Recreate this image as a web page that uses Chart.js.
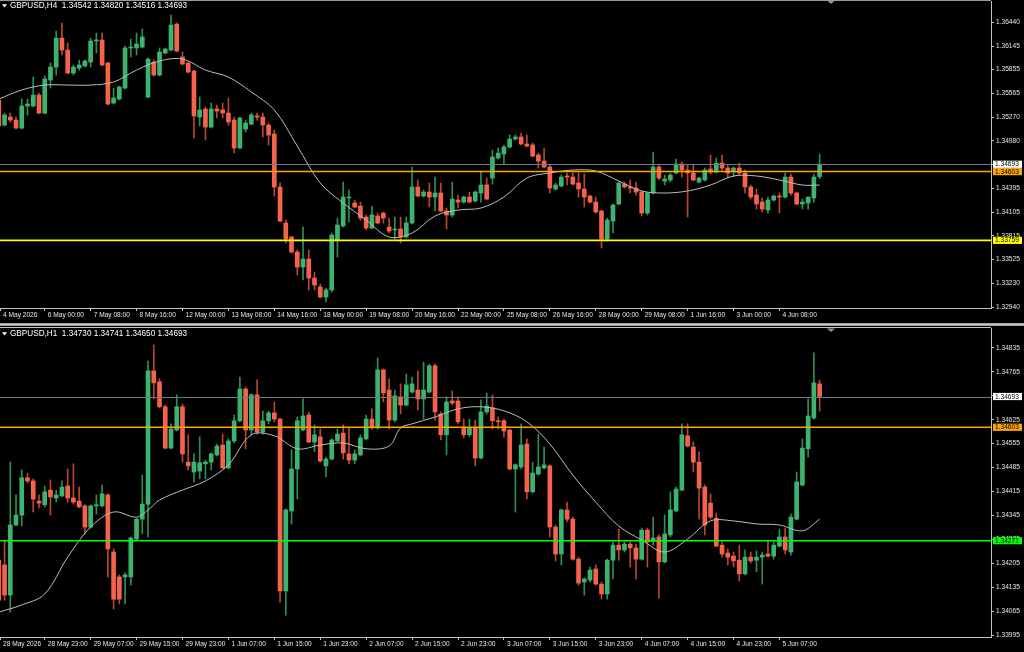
<!DOCTYPE html>
<html>
<head>
<meta charset="utf-8">
<script src="https://cdn.jsdelivr.net/npm/chart.js@4.4.1/dist/chart.umd.min.js"></script>
<style>
  html, body { margin: 0; padding: 0; background: #000; overflow: hidden; }
  #wrap { position: relative; width: 1024px; height: 652px; }
  canvas { position: absolute; left: 0; }
  #h4 { top: 0; }
  #h1 { top: 322px; }
</style>
</head>
<body>
<div id="wrap">
  <canvas id="h4" width="1024" height="320"></canvas>
  <canvas id="h1" width="1024" height="330"></canvas>
</div>
<script>
const symbol = "GBPUSD";

// ---- H4 panel ----
const h4Open = [
  1.35482,1.35175,1.35273,1.35236,1.35138,1.35408,1.35408,1.35543,1.35322,1.35728,1.35887,1.36243,
  1.36096,1.35814,1.35875,1.35900,1.35949,1.36207,1.36219,1.35936,1.35445,1.35494,1.35629,1.36121,
  1.36121,1.36133,1.35519,1.35949,1.35789,1.36059,1.36096,1.36415,1.36010,1.35936,1.35838,1.35273,
  1.35372,1.35150,1.35372,1.35360,1.35322,1.35236,1.34893,1.35126,1.35187,1.35286,1.35273,1.35175,
  1.35065,1.34414,1.33972,1.33800,1.33615,1.33431,1.33529,1.33296,1.33186,1.33063,1.33149,1.33763,
  1.33935,1.34279,1.34217,1.34180,1.34045,1.33910,1.34058,1.34094,1.33922,1.33886,1.33898,1.33800,
  1.33972,1.34414,1.34303,1.34352,1.34291,1.34340,1.34119,1.34070,1.34254,1.34229,1.34291,1.34242,
  1.34340,1.34438,1.34524,1.34770,1.34819,1.34905,1.35003,1.35028,1.34942,1.34930,1.34807,1.34733,
  1.34659,1.34389,1.34426,1.34549,1.34536,1.34463,1.34389,1.34303,1.34229,1.34119,1.33775,1.33996,
  1.34205,1.34450,1.34414,1.34401,1.34352,1.34094,1.34340,1.34659,1.34487,1.34500,1.34586,1.34696,
  1.34622,1.34586,1.34475,1.34500,1.34635,1.34598,1.34708,1.34647,1.34598,1.34647,1.34586,1.34414,
  1.34315,1.34229,1.34131,1.34254,1.34303,1.34291,1.34536,1.34340,1.34205,1.34217,1.34279,1.34542
];
const h4High = [
  1.35519,1.35322,1.35322,1.35273,1.35494,1.35494,1.35764,1.35568,1.35777,1.35936,1.36329,1.36428,
  1.36182,1.35912,1.35973,1.35973,1.36243,1.36305,1.36305,1.35949,1.35629,1.35654,1.36145,1.36231,
  1.36305,1.36354,1.35998,1.35973,1.36121,1.36121,1.36526,1.36428,1.36071,1.35949,1.35850,1.35519,
  1.35396,1.35445,1.35421,1.35445,1.35507,1.35273,1.35273,1.35236,1.35322,1.35322,1.35322,1.35200,
  1.35114,1.34463,1.34008,1.33812,1.33640,1.33922,1.33640,1.33370,1.33222,1.33174,1.33849,1.34033,
  1.34475,1.34377,1.34254,1.34229,1.34070,1.34180,1.34094,1.34106,1.34033,1.34045,1.34045,1.34045,
  1.34659,1.34500,1.34377,1.34463,1.34536,1.34463,1.34156,1.34475,1.34315,1.34303,1.34352,1.34365,
  1.34610,1.34524,1.34868,1.34893,1.34930,1.35052,1.35052,1.35077,1.35052,1.34954,1.34831,1.34893,
  1.34684,1.34463,1.34561,1.34586,1.34586,1.34586,1.34573,1.34315,1.34291,1.34131,1.34033,1.34205,
  1.34475,1.34475,1.34500,1.34475,1.34365,1.34352,1.34844,1.34696,1.34561,1.34586,1.34758,1.34721,
  1.34684,1.34684,1.34536,1.34647,1.34807,1.34770,1.34807,1.34684,1.34659,1.34708,1.34622,1.34438,
  1.34389,1.34279,1.34291,1.34315,1.34340,1.34586,1.34573,1.34352,1.34266,1.34291,1.34573,1.34820
];
const h4Low = [
  1.35138,1.35163,1.35212,1.35126,1.35126,1.35298,1.35396,1.35310,1.35310,1.35629,1.35789,1.36035,
  1.35801,1.35789,1.35850,1.35887,1.35887,1.36059,1.35900,1.35421,1.35433,1.35482,1.35617,1.36010,
  1.36035,1.36121,1.35507,1.35777,1.35777,1.36047,1.36084,1.36071,1.35912,1.35814,1.35016,1.35163,
  1.34991,1.35138,1.35261,1.35261,1.35175,1.34831,1.34880,1.35089,1.35175,1.35236,1.35028,1.34930,
  1.34303,1.33984,1.33726,1.33603,1.33333,1.33272,1.33149,1.33149,1.33051,1.33002,1.33124,1.33554,
  1.33922,1.33984,1.34156,1.34008,1.33886,1.33898,1.33959,1.33972,1.33849,1.33775,1.33726,1.33787,
  1.33959,1.34291,1.34291,1.34168,1.34119,1.34106,1.33898,1.34045,1.34156,1.34217,1.34217,1.34229,
  1.34229,1.34254,1.34450,1.34758,1.34696,1.34893,1.34991,1.34930,1.34905,1.34782,1.34647,1.34647,
  1.34340,1.34377,1.34414,1.34438,1.34438,1.34291,1.34168,1.34217,1.34094,1.33665,1.33750,1.33849,
  1.34193,1.34401,1.34340,1.34315,1.34058,1.34070,1.34328,1.34500,1.34438,1.34475,1.34573,1.34536,
  1.34045,1.34487,1.34463,1.34487,1.34573,1.34586,1.34622,1.34524,1.34536,1.34561,1.34340,1.34266,
  1.34143,1.34106,1.34094,1.34242,1.34094,1.34279,1.34315,1.34193,1.34143,1.34143,1.34229,1.34516
];
const h4Close = [
  1.35163,1.35298,1.35236,1.35138,1.35408,1.35433,1.35543,1.35322,1.35740,1.35887,1.36243,1.36096,
  1.35814,1.35887,1.35912,1.35961,1.36207,1.36219,1.35912,1.35433,1.35507,1.35642,1.36121,1.36133,
  1.36170,1.36256,1.35985,1.35789,1.36071,1.36108,1.36403,1.36084,1.35924,1.35826,1.35286,1.35360,
  1.35150,1.35372,1.35347,1.35322,1.35212,1.34893,1.35261,1.35200,1.35298,1.35273,1.35175,1.35052,
  1.34414,1.33996,1.33775,1.33615,1.33431,1.33529,1.33296,1.33210,1.33063,1.33149,1.33824,1.33947,
  1.34291,1.34291,1.34168,1.34033,1.33910,1.34070,1.33972,1.34033,1.33873,1.33898,1.33800,1.33972,
  1.34414,1.34303,1.34352,1.34291,1.34340,1.34119,1.34070,1.34266,1.34229,1.34291,1.34229,1.34352,
  1.34438,1.34266,1.34782,1.34831,1.34905,1.35003,1.35028,1.34942,1.34917,1.34794,1.34733,1.34659,
  1.34401,1.34438,1.34536,1.34536,1.34450,1.34389,1.34291,1.34229,1.34106,1.33775,1.34008,1.34193,
  1.34463,1.34414,1.34401,1.34352,1.34094,1.34340,1.34659,1.34524,1.34512,1.34561,1.34696,1.34622,
  1.34586,1.34500,1.34524,1.34622,1.34598,1.34708,1.34647,1.34586,1.34647,1.34586,1.34414,1.34291,
  1.34205,1.34143,1.34254,1.34303,1.34291,1.34536,1.34340,1.34205,1.34229,1.34291,1.34536,1.34693
];
// moving average at these bar indices
const h4MaIdx = [0,4,8,12,16,20,24,28,32,36,40,44,48,52,56,60,64,68,72,76,80,84,88,92,96,100,104,108,112,116,120,124,128,132,136,140,143];
const h4MaVal = [1.35494,1.35605,1.35666,1.35666,1.35666,1.35703,1.35850,1.35961,1.35985,1.35850,1.35764,1.35580,
  1.35360,1.34917,1.34463,1.34217,1.34008,1.33800,1.33849,1.34058,1.34131,1.34156,1.34291,1.34524,
  1.34586,1.34622,1.34610,1.34487,1.34365,1.34340,1.34365,1.34438,1.34549,1.34549,1.34500,1.34438,1.34438];
const h4TickIdx = [0,8,16,24,32,40,48,56,64,72,80,88,96,104,112,120,128,136];
const h4TickText = ["4 May 2026","6 May 00:00","7 May 08:00","8 May 16:00","12 May 00:00","13 May 08:00",
  "14 May 16:00","18 May 00:00","19 May 08:00","20 May 16:00","22 May 00:00","25 May 08:00",
  "26 May 16:00","28 May 00:00","29 May 08:00","1 Jun 16:00","3 Jun 00:00","4 Jun 08:00"];
const h4PriceTicks = [1.36440,1.36145,1.35855,1.35565,1.35270,1.34980,1.34690,1.34395,1.34105,1.33815,1.33525,1.33230,1.32940];
const h4Levels = [1.34603, 1.33759];

// ---- H1 panel ----
const h1Open = [
  1.34214,1.34200,1.34112,1.34317,1.34346,1.34455,1.34446,1.34387,1.34376,1.34419,1.34396,1.34402,
  1.34431,1.34396,1.34387,1.34373,1.34311,1.34373,1.34373,1.34405,1.34238,1.34165,1.34165,1.34165,
  1.34276,1.34334,1.34378,1.34768,1.34736,1.34663,1.34542,1.34595,1.34663,1.34501,1.34472,1.34475,
  1.34496,1.34501,1.34522,1.34551,1.34484,1.34563,1.34622,1.34715,1.34595,1.34698,1.34589,1.34622,
  1.34645,1.34627,1.34124,1.34358,1.34481,1.34595,1.34639,1.34560,1.34575,1.34490,1.34510,1.34563,
  1.34586,1.34525,1.34507,1.34522,1.34569,1.34627,1.34601,1.34771,1.34712,1.34624,1.34692,1.34668,
  1.34706,1.34712,1.34686,1.34706,1.34783,1.34642,1.34581,1.34680,1.34680,1.34601,1.34581,1.34601,
  1.34513,1.34648,1.34660,1.34622,1.34622,1.34595,1.34481,1.34487,1.34554,1.34414,1.34466,1.34484,
  1.34490,1.34311,1.34232,1.34361,1.34334,1.34217,1.34150,1.34156,1.34188,1.34144,1.34115,1.34214,
  1.34258,1.34244,1.34261,1.34250,1.34217,1.34302,1.34270,1.34282,1.34209,1.34288,1.34358,1.34419,
  1.34578,1.34545,1.34501,1.34428,1.34381,1.34337,1.34258,1.34235,1.34226,1.34214,1.34174,1.34223,
  1.34214,1.34223,1.34232,1.34226,1.34255,1.34282,1.34238,1.34334,1.34434,1.34540,1.34630,1.34730
];
const h1High = [
  1.34229,1.34273,1.34501,1.34405,1.34478,1.34469,1.34452,1.34405,1.34431,1.34449,1.34419,1.34446,
  1.34481,1.34496,1.34428,1.34376,1.34376,1.34405,1.34434,1.34408,1.34247,1.34171,1.34177,1.34282,
  1.34337,1.34463,1.34797,1.34844,1.34745,1.34668,1.34613,1.34698,1.34671,1.34581,1.34525,1.34575,
  1.34507,1.34528,1.34554,1.34583,1.34569,1.34639,1.34750,1.34721,1.34701,1.34742,1.34651,1.34651,
  1.34677,1.34630,1.34364,1.34537,1.34633,1.34686,1.34648,1.34610,1.34598,1.34516,1.34569,1.34598,
  1.34610,1.34601,1.34537,1.34581,1.34639,1.34657,1.34806,1.34774,1.34745,1.34712,1.34730,1.34759,
  1.34750,1.34768,1.34794,1.34788,1.34788,1.34648,1.34692,1.34709,1.34692,1.34627,1.34627,1.34624,
  1.34683,1.34703,1.34698,1.34633,1.34627,1.34598,1.34496,1.34613,1.34569,1.34501,1.34583,1.34545,
  1.34493,1.34317,1.34364,1.34384,1.34340,1.34223,1.34162,1.34194,1.34200,1.34150,1.34217,1.34267,
  1.34305,1.34267,1.34267,1.34261,1.34308,1.34308,1.34340,1.34288,1.34346,1.34414,1.34428,1.34613,
  1.34613,1.34560,1.34531,1.34434,1.34408,1.34352,1.34267,1.34247,1.34238,1.34258,1.34244,1.34238,
  1.34241,1.34238,1.34273,1.34267,1.34305,1.34308,1.34349,1.34472,1.34569,1.34686,1.34821,1.34741
];
const h1Low = [
  1.34068,1.34097,1.34062,1.34314,1.34314,1.34440,1.34355,1.34367,1.34370,1.34346,1.34384,1.34399,
  1.34384,1.34378,1.34367,1.34291,1.34308,1.34349,1.34370,1.34165,1.34071,1.34086,1.34086,1.34141,
  1.34273,1.34291,1.34282,1.34686,1.34660,1.34540,1.34540,1.34592,1.34501,1.34478,1.34443,1.34452,
  1.34452,1.34478,1.34519,1.34481,1.34481,1.34557,1.34619,1.34540,1.34581,1.34583,1.34583,1.34613,
  1.34619,1.34091,1.34053,1.34320,1.34393,1.34592,1.34557,1.34531,1.34501,1.34458,1.34507,1.34560,
  1.34510,1.34496,1.34496,1.34519,1.34566,1.34598,1.34598,1.34677,1.34598,1.34619,1.34642,1.34665,
  1.34703,1.34654,1.34627,1.34703,1.34624,1.34566,1.34522,1.34668,1.34613,1.34572,1.34575,1.34490,
  1.34510,1.34642,1.34598,1.34598,1.34575,1.34478,1.34355,1.34481,1.34393,1.34411,1.34463,1.34481,
  1.34282,1.34212,1.34200,1.34326,1.34214,1.34141,1.34112,1.34150,1.34141,1.34100,1.34100,1.34159,
  1.34214,1.34238,1.34194,1.34159,1.34214,1.34194,1.34258,1.34103,1.34206,1.34282,1.34355,1.34417,
  1.34545,1.34472,1.34334,1.34288,1.34334,1.34253,1.34223,1.34200,1.34194,1.34153,1.34171,1.34206,
  1.34180,1.34144,1.34223,1.34217,1.34253,1.34232,1.34229,1.34332,1.34431,1.34516,1.34627,1.34650
];
const h1Close = [
  1.34097,1.34112,1.34317,1.34346,1.34455,1.34446,1.34393,1.34381,1.34414,1.34399,1.34405,1.34428,
  1.34396,1.34384,1.34370,1.34311,1.34373,1.34376,1.34408,1.34247,1.34100,1.34100,1.34171,1.34279,
  1.34334,1.34378,1.34768,1.34733,1.34663,1.34542,1.34598,1.34663,1.34525,1.34490,1.34501,1.34499,
  1.34501,1.34525,1.34548,1.34484,1.34563,1.34622,1.34715,1.34595,1.34698,1.34589,1.34622,1.34645,
  1.34627,1.34124,1.34361,1.34481,1.34622,1.34636,1.34560,1.34581,1.34504,1.34510,1.34566,1.34583,
  1.34528,1.34507,1.34525,1.34572,1.34627,1.34601,1.34771,1.34703,1.34624,1.34695,1.34668,1.34727,
  1.34730,1.34686,1.34712,1.34783,1.34648,1.34581,1.34677,1.34674,1.34619,1.34581,1.34601,1.34513,
  1.34648,1.34665,1.34622,1.34619,1.34592,1.34481,1.34493,1.34551,1.34414,1.34469,1.34487,1.34493,
  1.34311,1.34232,1.34361,1.34334,1.34217,1.34147,1.34159,1.34185,1.34144,1.34115,1.34214,1.34258,
  1.34244,1.34261,1.34250,1.34217,1.34302,1.34267,1.34279,1.34209,1.34291,1.34361,1.34422,1.34581,
  1.34548,1.34501,1.34425,1.34317,1.34340,1.34255,1.34232,1.34223,1.34212,1.34174,1.34223,1.34212,
  1.34223,1.34229,1.34226,1.34258,1.34282,1.34244,1.34340,1.34443,1.34542,1.34636,1.34733,1.34693
];
const h1MaIdx = [0,4,8,12,16,20,24,26,28,32,36,40,44,48,52,56,60,64,68,70,72,76,80,84,88,92,96,100,104,108,112,116,120,124,128,132,136,140,143];
const h1MaVal = [1.34062,1.34083,1.34115,1.34223,1.34311,1.34355,1.34340,1.34361,1.34390,1.34419,1.34446,1.34493,
  1.34581,1.34578,1.34540,1.34551,1.34557,1.34540,1.34548,1.34601,1.34613,1.34633,1.34657,1.34663,
  1.34651,1.34619,1.34554,1.34463,1.34384,1.34314,1.34273,1.34238,1.34276,1.34329,1.34329,1.34320,
  1.34317,1.34300,1.34334];
const h1TickIdx = [0,8,16,24,32,40,48,56,64,72,80,88,96,104,112,120,128,136];
const h1TickText = ["28 May 2026","28 May 23:00","29 May 07:00","29 May 15:00","29 May 23:00","1 Jun 07:00",
  "1 Jun 15:00","1 Jun 23:00","2 Jun 07:00","2 Jun 15:00","2 Jun 23:00","3 Jun 07:00",
  "3 Jun 15:00","3 Jun 23:00","4 Jun 07:00","4 Jun 15:00","4 Jun 23:00","5 Jun 07:00"];
const h1PriceTicks = [1.34835,1.34765,1.34695,1.34625,1.34555,1.34485,1.34415,1.34345,1.34275,1.34205,1.34135,1.34065,1.33995];
const h1Levels = [1.34603, 1.34271];

// ---- look ----
const BULL = '#3cb371', BEAR = '#f5644a';
const BULL_WICK = '#2d8f58', BEAR_WICK = '#b9472f';
const AXIS = '#c4c4c4', TEXT = '#e6e6e6';
const FONT = '"Liberation Sans", Arial, sans-serif';
const SIZE = 6.6;
const X_MIN = 0.209, X_MAX = 172.857;   // ~5.74 px per bar across the 991 px plot

const deco = {
  id: 'deco',
  afterDatasetsDraw(chart, args, o) {
    const { ctx, chartArea: a, scales: { y } } = chart;
    ctx.save();
    ctx.beginPath();
    ctx.rect(a.left, a.top, a.right - a.left, a.bottom - a.top);
    ctx.clip();
    o.lines.forEach(l => {
      const py = l.w === 1 ? Math.round(y.getPixelForValue(l.v)) + 0.5 : y.getPixelForValue(l.v);
      ctx.strokeStyle = l.color;
      ctx.lineWidth = l.w;
      ctx.beginPath();
      ctx.moveTo(a.left, py);
      ctx.lineTo(a.right, py);
      ctx.stroke();
    });
    ctx.restore();
  },
  afterDraw(chart, args, o) {
    const { ctx, chartArea: a, scales: { y }, width } = chart;
    ctx.save();
    // frame above the plot
    o.frame.forEach(f => {
      ctx.fillStyle = f.color;
      ctx.fillRect(0, f.y, f.full ? width : a.right, f.h);
    });
    // price boxes on the axis
    ctx.font = SIZE + 'px ' + FONT;
    ctx.textBaseline = 'middle';
    ctx.textAlign = 'left';
    o.lines.forEach(l => {
      const py = y.getPixelForValue(l.v);
      ctx.fillStyle = l.box;
      ctx.fillRect(a.right + 2, py - 3.6, 29, 7.2);
      ctx.fillStyle = '#000';
      ctx.fillText(l.v.toFixed(5), a.right + 4, py + 0.3);
    });
    // header
    ctx.fillStyle = '#fff';
    ctx.beginPath();
    ctx.moveTo(2, o.headY - 1.8);
    ctx.lineTo(7, o.headY - 1.8);
    ctx.lineTo(4.5, o.headY + 1.6);
    ctx.closePath();
    ctx.fill();
    ctx.font = '8.2px ' + FONT;
    ctx.fillText(o.head, 10, o.headY);
    // shift marker
    ctx.fillStyle = '#8797a8';
    ctx.beginPath();
    ctx.moveTo(827, o.markY);
    ctx.lineTo(835, o.markY);
    ctx.lineTo(831, o.markY + 3.5);
    ctx.closePath();
    ctx.fill();
    ctx.restore();
  }
};

function panel(id, s) {
  const up = s.open.map((v, i) => s.close[i] >= v);
  const last = s.open.length - 1;
  const head = s.name + '  ' + [s.open[last], s.high[last], s.low[last], s.close[last]].map(v => v.toFixed(5)).join(' ');
  const bid = s.close[last];
  return new Chart(document.getElementById(id), {
    type: 'bar',
    data: {
      datasets: [
        {
          type: 'line',
          data: s.maIdx.map((k, i) => ({ x: k, y: s.maVal[i] })),
          borderColor: '#bcbcbc',
          borderWidth: 1,
          pointRadius: 0,
          tension: 0.35,
          order: 0
        },
        {
          data: s.open.map((v, i) => ({ x: i, y: [Math.min(v, s.close[i]), Math.max(v, s.close[i])] })),
          backgroundColor: up.map(u => u ? BULL : BEAR),
          barThickness: 4,
          minBarLength: 1,
          grouped: false,
          order: 1
        },
        {
          data: s.low.map((v, i) => ({ x: i, y: [v, s.high[i]] })),
          backgroundColor: up.map(u => u ? BULL_WICK : BEAR_WICK),
          barThickness: 1,
          grouped: false,
          order: 2
        }
      ]
    },
    options: {
      responsive: false,
      animation: false,
      devicePixelRatio: 1,
      events: [],
      layout: { padding: { top: s.padTop, left: 0, right: 0, bottom: 0 } },
      plugins: {
        legend: { display: false },
        tooltip: { enabled: false },
        deco: {
          lines: [
            { v: bid, color: '#6c7987', w: 1, box: '#ffffff' },
            { v: s.levels[0], color: '#ffa500', w: 1.5, box: '#ffa500' },
            { v: s.levels[1], color: s.levelColor, w: 1.6, box: s.levelColor }
          ],
          head: head,
          headY: s.headY,
          markY: s.markY,
          frame: s.frame
        }
      },
      scales: {
        x: {
          type: 'linear',
          min: X_MIN,
          max: X_MAX,
          offset: false,
          bounds: 'data',
          grid: { display: true, offset: false, drawOnChartArea: false, drawTicks: true, tickLength: 3, color: AXIS },
          border: { display: true, color: AXIS },
          ticks: {
            autoSkip: false, maxRotation: 0, minRotation: 0, align: 'start', padding: 0, labelOffset: 3,
            color: TEXT, font: { family: FONT, size: SIZE },
            callback: (v, i) => s.tickText[i]
          },
          afterBuildTicks: sc => { sc.ticks = s.tickIdx.map(k => ({ value: Math.max(k, X_MIN) })); },
          afterFit: sc => { sc.height = s.xAxisH; sc.paddingLeft = 0; sc.paddingRight = 0; }
        },
        y: {
          type: 'linear',
          position: 'right',
          min: s.yMin,
          max: s.yMax,
          bounds: 'data',
          grid: { display: true, drawOnChartArea: false, drawTicks: true, tickLength: 3, color: AXIS },
          border: { display: true, color: AXIS },
          ticks: {
            autoSkip: false, padding: 2,
            color: TEXT, font: { family: FONT, size: SIZE },
            callback: v => v.toFixed(5)
          },
          afterBuildTicks: sc => { sc.ticks = s.priceTicks.map(v => ({ value: v })); },
          afterFit: sc => { sc.width = 33; sc.paddingTop = 0; sc.paddingBottom = 0; }
        }
      }
    },
    plugins: [deco]
  });
}

panel('h4', {
  name: symbol + ',H4', open: h4Open, high: h4High, low: h4Low, close: h4Close,
  maIdx: h4MaIdx, maVal: h4MaVal, tickIdx: h4TickIdx, tickText: h4TickText,
  priceTicks: h4PriceTicks, levels: h4Levels, levelColor: '#ffff00',
  yMin: 1.32928, yMax: 1.36698, padTop: 1, xAxisH: 12,
  headY: 6, markY: 0.5, frame: [{ y: 0, h: 1, color: '#9a9a9a', full: false }]
});
panel('h1', {
  name: symbol + ',H1', open: h1Open, high: h1High, low: h1Low, close: h1Close,
  maIdx: h1MaIdx, maVal: h1MaVal, tickIdx: h1TickIdx, tickText: h1TickText,
  priceTicks: h1PriceTicks, levels: h1Levels, levelColor: '#00ff00',
  yMin: 1.339892, yMax: 1.348935, padTop: 6, xAxisH: 15,
  headY: 12, markY: 6.5,
  frame: [{ y: 1.2, h: 2.6, color: '#c8c8c8', full: true }, { y: 5, h: 1, color: AXIS, full: false }]
});
</script>
</body>
</html>
